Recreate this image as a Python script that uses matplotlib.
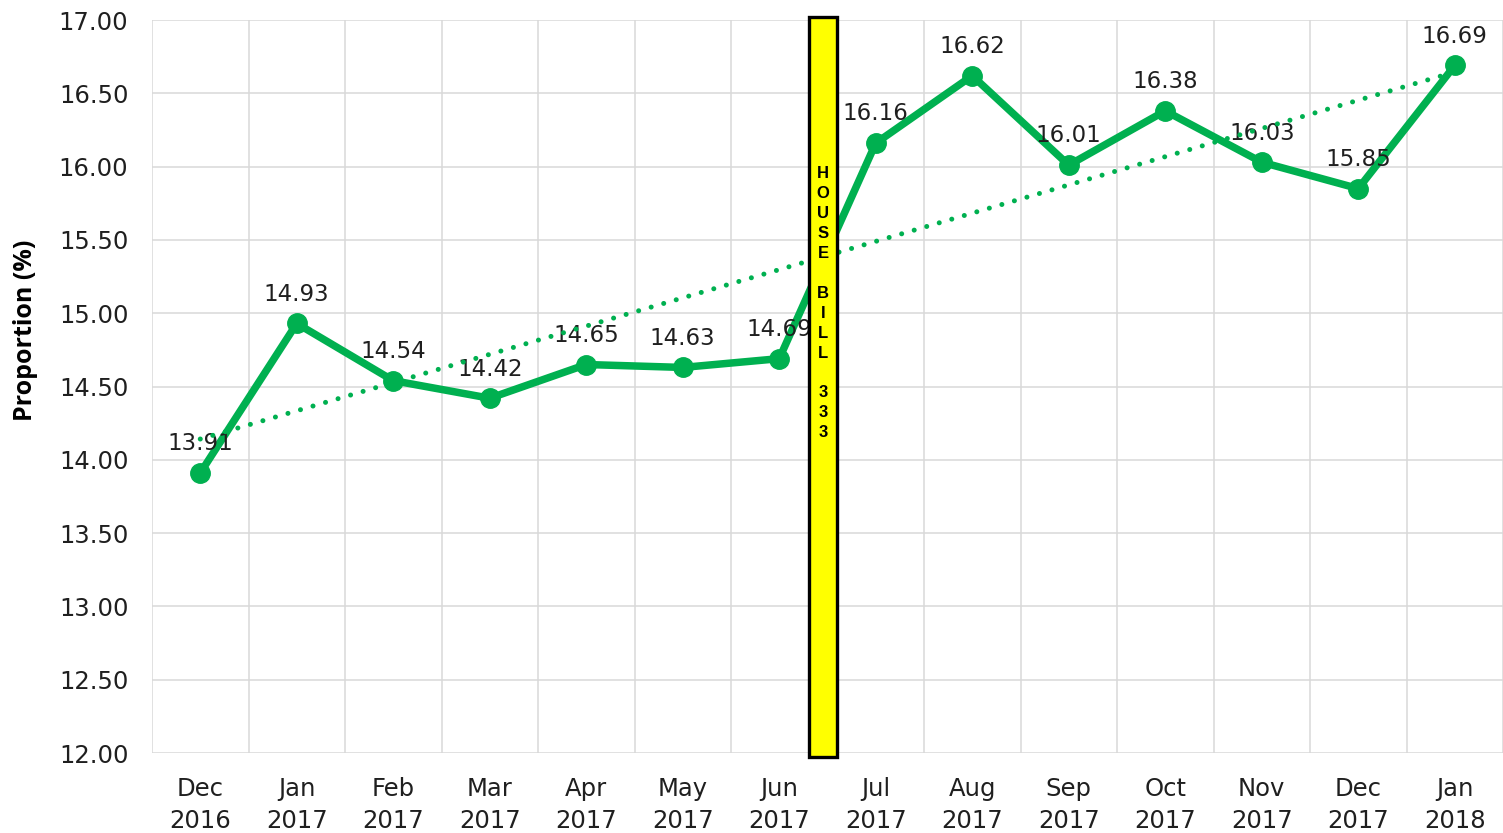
import numpy as np
import matplotlib
matplotlib.use("Agg")
import matplotlib.pyplot as plt

months = ["Dec\n2016", "Jan\n2017", "Feb\n2017", "Mar\n2017", "Apr\n2017", "May\n2017", "Jun\n2017",
          "Jul\n2017", "Aug\n2017", "Sep\n2017", "Oct\n2017", "Nov\n2017", "Dec\n2017", "Jan\n2018"]
proportion = [13.91, 14.93, 14.54, 14.42, 14.65, 14.63, 14.69,
              16.16, 16.62, 16.01, 16.38, 16.03, 15.85, 16.69]
yticks = [12.0, 12.5, 13.0, 13.5, 14.0, 14.5, 15.0, 15.5, 16.0, 16.5, 17.0]
bill_text = "HOUSE BILL 333"

GREEN = "#00B050"
GRID = "#D9D9D9"
FONT = "DejaVu Sans"
TXT = "#1F1F1F"

W, H = 1503, 833
fig = plt.figure(figsize=(W / 100, H / 100), dpi=100)
ax = fig.add_axes([152 / W, 1 - 753 / H, (W - 152) / W, (753 - 20) / H])

x = np.arange(len(months))
ax.set_xlim(-0.5, len(months) - 0.5)
ax.set_ylim(12, 17)

# grid
for yv in yticks:
    ax.axhline(yv, color=GRID, lw=1.1, zorder=0)
for b in np.arange(-0.5, len(months) - 0.5 + 0.01, 1.0):
    ax.axvline(b, color=GRID, lw=1.1, zorder=0)
for s in ax.spines.values():
    s.set_visible(False)

# trend line
slope, intercept = np.polyfit(x, proportion, 1)
ax.plot(x, slope * x + intercept, color=GREEN, lw=3.6, linestyle=(0, (0.01, 2.6)),
        dash_capstyle="round", zorder=4)

# main line
ax.plot(x, proportion, color=GREEN, lw=5.4, marker="o", markersize=14,
        solid_capstyle="round", zorder=3)

# data labels
for xi, yi in zip(x, proportion):
    ax.annotate(f"{yi:.2f}", (xi, yi), xytext=(0, 21), textcoords="offset points",
                ha="center", va="center", fontsize=16.5, color=TXT, family=FONT, zorder=3.5)

# house bill box
x0 = (809 - 152) / 96.5 - 0.5
x1 = (837 - 152) / 96.5 - 0.5
rect = matplotlib.patches.Rectangle((x0, -0.005), x1 - x0, 1.009,
                                    transform=ax.get_xaxis_transform(),
                                    facecolor="#FFFF00", edgecolor="black", lw=2.4,
                                    clip_on=False, zorder=5)
ax.add_patch(rect)
xc = (x0 + x1) / 2
for i, ch in enumerate(bill_text):
    if ch == " ":
        continue
    ypx = 174 + i * 19.9
    ax.text(xc, (753 - ypx) / 733, ch, transform=ax.get_xaxis_transform(),
            ha="center", va="center", fontsize=12, fontweight="bold",
            family="Liberation Sans", color="black", zorder=6)

ax.set_xticks(x)
ax.set_xticklabels(months, fontsize=17.5, family=FONT, color=TXT, linespacing=1.42)
ax.set_yticks(yticks)
ax.set_yticklabels([f"{v:.2f}" for v in yticks], fontsize=17.5, family=FONT, color=TXT)
ax.tick_params(axis="both", length=0)
ax.tick_params(axis="y", pad=17)
ax.tick_params(axis="x", pad=17)

ax.set_ylabel("Proportion (%)", fontsize=18, fontweight="bold", family="Open Sans", color="black")
ax.yaxis.set_label_coords((38 - 152) / 1351, 0.577)

fig.savefig("out.png", dpi=100)
